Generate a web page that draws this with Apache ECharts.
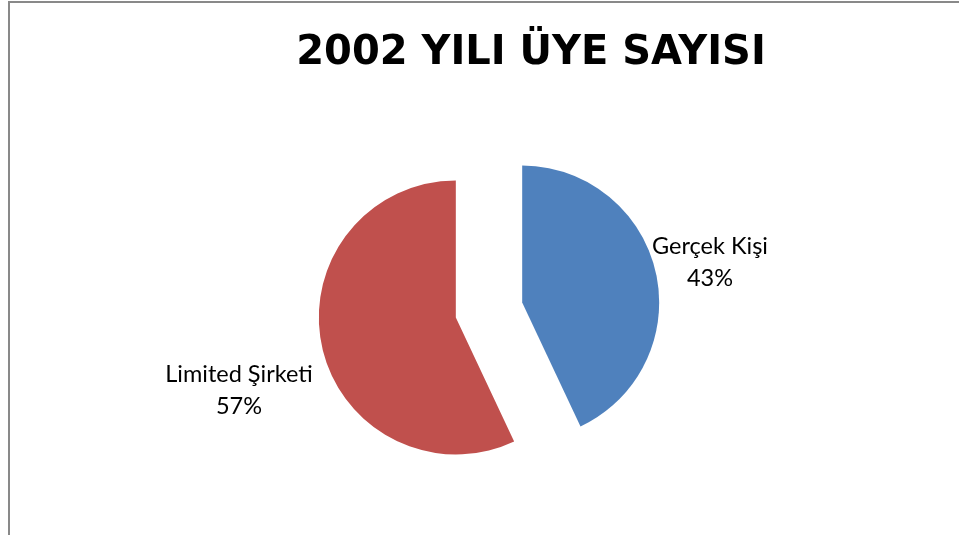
<!DOCTYPE html>
<html>
<head>
<meta charset="utf-8">
<script src="https://cdn.jsdelivr.net/npm/echarts@6/dist/echarts.min.js"></script>
<style>
    html, body { margin: 0; padding: 0; background: #fff; }
    #frame {
        position: absolute; left: 8px; top: 1px; width: 951px; height: 534px;
        border-left: 2px solid #898989; border-top: 2px solid #898989;
        box-sizing: border-box;
    }
    #chart { position: absolute; left: 0; top: 0; width: 959px; height: 535px; }
</style>
</head>
<body>
<div id="frame"></div>
<div id="chart"></div>
<script>
    // 2002 yılı üye sayısı
    var title = '2002 YILI ÜYE SAYISI';
    var categories = ['Gerçek Kişi', 'Limited Şirketi'];
    var values = [43, 57];
    var colors = ['#4f81bd', '#c0504d'];

    // label spots (center of text block)
    var labelSpots = [[710, 262], [239, 390]];

    var chart = echarts.init(document.getElementById('chart'));
    chart.setOption({
        animation: false,
        title: {
            text: title,
            left: 526,
            top: 29,
            textAlign: 'center',
            textStyle: {
                fontFamily: 'DejaVu Sans',
                fontWeight: 'bold',
                fontSize: 40,
                color: '#000'
            }
        },
        graphic: categories.map(function (c, i) {
            return {
                type: 'text',
                x: labelSpots[i][0],
                y: labelSpots[i][1],
                silent: true,
                style: {
                    text: c + '\n' + values[i] + '%',
                    align: 'center',
                    verticalAlign: 'middle',
                    fontFamily: 'Lato',
                    fontSize: 23.5,
                    lineHeight: 32,
                    fill: '#000'
                }
            };
        }),
        series: [{
            type: 'pie',
            center: [489, 310],
            radius: 137,
            startAngle: 90,
            clockwise: true,
            selectedMode: 'multiple',
            selectedOffset: 34,
            emphasis: { disabled: true },
            label: { show: false },
            labelLine: { show: false },
            data: categories.map(function (c, i) {
                return { name: c, value: values[i], selected: true, itemStyle: { color: colors[i] } };
            })
        }]
    });
</script>
</body>
</html>
